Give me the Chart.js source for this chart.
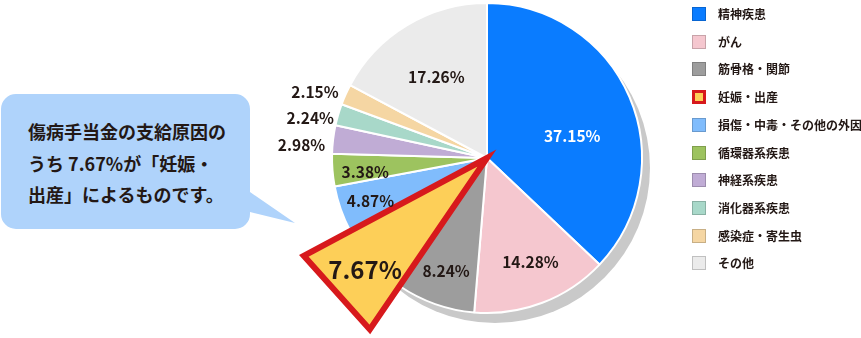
<!DOCTYPE html>
<html><head><meta charset="utf-8">
<script src="https://cdn.jsdelivr.net/npm/chart.js@4"></script>
<style>
html,body{margin:0;padding:0;background:#fff;}
#wrap{position:relative;width:861px;height:338px;overflow:hidden;font-family:"Noto Sans CJK JP","Noto Sans",sans-serif;}
#c{position:absolute;left:0;top:0;}
#bubble{position:absolute;left:0;top:0;}
#btext{position:absolute;left:28px;top:116px;font-size:18px;font-weight:700;line-height:31.5px;color:#231815;white-space:nowrap;letter-spacing:0px;}
.li{position:absolute;left:692px;height:14px;display:flex;align-items:center;}
.mk{width:14px;height:14px;box-sizing:border-box;border:1px solid rgba(0,0,0,0.18);}
.lt{position:absolute;left:26px;top:-3px;font-size:12px;font-weight:700;color:#231815;white-space:nowrap;line-height:20px;}
</style></head><body>
<div id="wrap">
<svg id="bubble" width="861" height="338"><path d="M16,94 H235 A15,15 0 0 1 250,109 V192 L295,223 L250,212 V214 A15,15 0 0 1 235,229 H16 A15,15 0 0 1 1,214 V109 A15,15 0 0 1 16,94 Z" fill="#afd3fb"/></svg>
<div id="btext">傷病手当金の支給原因の<br>うち 7.67%が「妊娠・<br>出産」によるものです。</div>
<canvas id="c" width="861" height="338"></canvas>
<div id="legend"></div>
</div>
<script>
const categories = ['精神疾患','がん','筋骨格・関節','妊娠・出産','損傷・中毒・その他の外因','循環器系疾患','神経系疾患','消化器系疾患','感染症・寄生虫','その他'];
const shares = [37.15,14.28,8.24,7.67,4.87,3.38,2.98,2.24,2.15,17.26];
const colors = ['#0a7cff','#f5c7cf','#9d9d9d','#fdcf58','#80bcfc','#9dc35f','#c0acd5','#a8d8c9','#f5d6a3','#ebebeb'];
const highlightIndex = 3;
// label placement: [radius factor, angle nudge (deg)]
const labelPlace = [[0.57,8],[0.72,-2],[0.77,0.5],[1.065,-0.5],[0.80,-0.6],[0.79,-1.7],[1.20,-2.6],[1.17,-3.3],[1.19,-3],[0.62,-0.8]];

const shadowPlugin = {
  id:'shadow',
  beforeDatasetsDraw(chart){
    const a = chart.getDatasetMeta(0).data[0];
    const {x,y,outerRadius} = a.getProps(['x','y','outerRadius'],true);
    const ctx = chart.ctx; ctx.save();
    ctx.beginPath(); ctx.arc(x+8,y+10,outerRadius,0,Math.PI*2);
    ctx.fillStyle='#c9c9c9'; ctx.fill(); ctx.restore();
  }
};
const highlightPlugin = {
  id:'highlight',
  afterDatasetsDraw(chart){
    const ctx = chart.ctx;
    const meta = chart.getDatasetMeta(0);
    const a = meta.data[highlightIndex];
    const {x,y,startAngle,endAngle,outerRadius} = a.getProps(['x','y','startAngle','endAngle','outerRadius'],true);
    const R2 = outerRadius*1.34;
    ctx.save();
    ctx.beginPath(); ctx.moveTo(x,y);
    ctx.lineTo(x+R2*Math.cos(startAngle), y+R2*Math.sin(startAngle));
    ctx.lineTo(x+R2*Math.cos(endAngle), y+R2*Math.sin(endAngle));
    ctx.closePath();
    ctx.fillStyle=colors[highlightIndex]; ctx.fill();
    ctx.lineWidth=6; ctx.lineJoin='miter'; ctx.strokeStyle='#d7191c'; ctx.stroke();
    ctx.restore();
    // labels
    ctx.save(); ctx.textAlign='center'; ctx.textBaseline='middle';
    meta.data.forEach((el,i)=>{
      const p = el.getProps(['x','y','startAngle','endAngle','outerRadius'],true);
      const mid = (p.startAngle+p.endAngle)/2 + labelPlace[i][1]*Math.PI/180;
      const r = p.outerRadius*labelPlace[i][0];
      ctx.font = (i===highlightIndex ? '700 24px' : '700 15.5px') + ' "Noto Sans CJK JP","Noto Sans",sans-serif';
      ctx.fillStyle = i===0 ? '#ffffff' : '#231815';
      ctx.fillText(shares[i].toFixed(2)+'%', p.x+r*Math.cos(mid), p.y+r*Math.sin(mid)+1);
    });
    ctx.restore();
  }
};

new Chart(document.getElementById('c'),{
  type:'pie',
  data:{labels:categories,datasets:[{data:shares,backgroundColor:colors,borderColor:'#ffffff',borderWidth:2}]},
  options:{responsive:false,animation:false,devicePixelRatio:1,
    layout:{padding:{left:331,top:2,right:218,bottom:24}},
    plugins:{legend:{display:false},tooltip:{enabled:false}}},
  plugins:[shadowPlugin,highlightPlugin]
});

const lg = document.getElementById('legend');
categories.forEach((c,i)=>{
  const d=document.createElement('div'); d.className='li'; d.style.top=(7+i*27.7)+'px';
  const m=document.createElement('div'); m.className='mk'; m.style.background=colors[i];
  if(i===highlightIndex){m.style.border='3px solid #d7191c';}
  const t=document.createElement('div'); t.className='lt'; t.textContent=c;
  d.appendChild(m); d.appendChild(t); lg.appendChild(d);
});
</script>
</body></html>
